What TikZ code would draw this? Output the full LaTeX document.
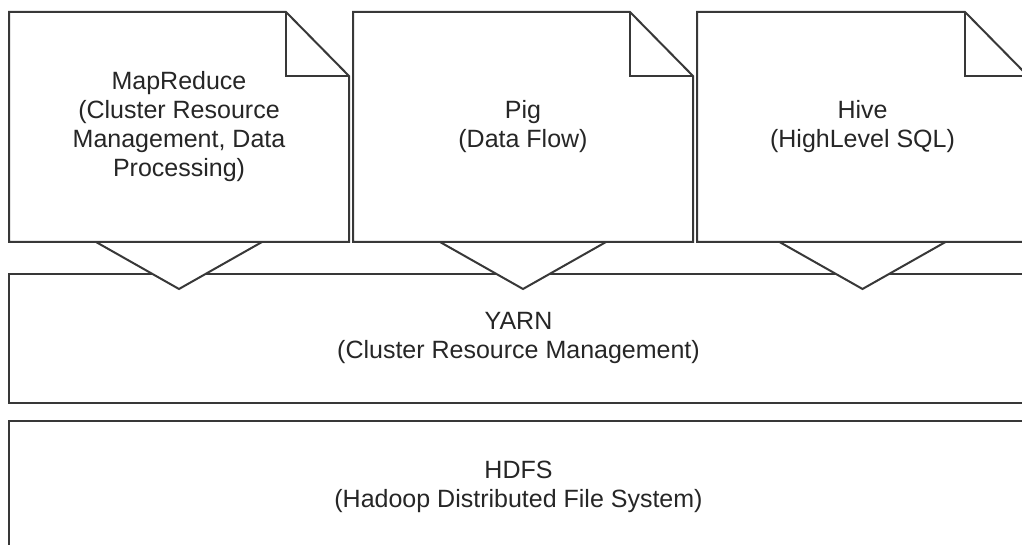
\documentclass[tikz,border=0pt]{standalone}
\usepackage{fontspec}
\setmainfont{Liberation Sans}
\usetikzlibrary{backgrounds}
\begin{document}
\begin{tikzpicture}[x=1pt,y=1pt,
  line/.style={draw=black!78, line width=2pt, line join=miter},
  label/.style={inner sep=0pt, outer sep=0pt, align=center, text=black!85,
    font=\fontsize{25}{29}\selectfont},
  docbox/.style={label, minimum width=340pt, minimum height=230pt},
  layer/.style={label, minimum width=1019pt}]
\useasboundingbox (0,0) rectangle (1022,545);
\clip (0,0) rectangle (1022,545);

% layer boxes
\node[layer, minimum height=129pt] (yarn) at (518.5,206.5)
  {YARN\\(Cluster Resource Management)};
\node[layer, minimum height=131pt] (hdfs) at (518.5,58.5)
  {HDFS\\(Hadoop Distributed File System)};

% component documents
\node[docbox] (mr) at (179,418)
  {MapReduce\\(Cluster Resource\\Management, Data\\Processing)};
\node[docbox] (pig) at (523,418) {Pig\\(Data Flow)};
\node[docbox, minimum width=331pt] (hive) at (862.5,418) {Hive\\(HighLevel SQL)};

\begin{scope}[on background layer]
  \draw[line] (yarn.south west) rectangle (yarn.north east);
  \draw[line] (hdfs.south west) rectangle (hdfs.north east);

  % down-pointing wedges from each document into YARN
  \foreach \n in {mr,pig,hive}{
    \coordinate (\n-l) at ([xshift=-83pt]\n.south);
    \coordinate (\n-r) at ([xshift=83pt]\n.south);
    \coordinate (\n-tip) at ([yshift=-47pt]\n.south);
    \fill[white] (\n-l) -- (\n-tip) -- (\n-r) -- cycle;
    \draw[line] (\n-l) -- (\n-tip) -- (\n-r);
  }

  % document outlines with folded corner
  \foreach \n in {mr,pig,hive}{
    \draw[line, fill=white] (\n.north west) -- ([xshift=-63pt]\n.north east)
      -- ([yshift=-64pt]\n.north east) -- (\n.south east) -- (\n.south west) -- cycle;
    \draw[line] ([xshift=-63pt]\n.north east)
      -- ([xshift=-63pt,yshift=-64pt]\n.north east)
      -- ([yshift=-64pt]\n.north east);
  }
\end{scope}
\end{tikzpicture}
\end{document}
